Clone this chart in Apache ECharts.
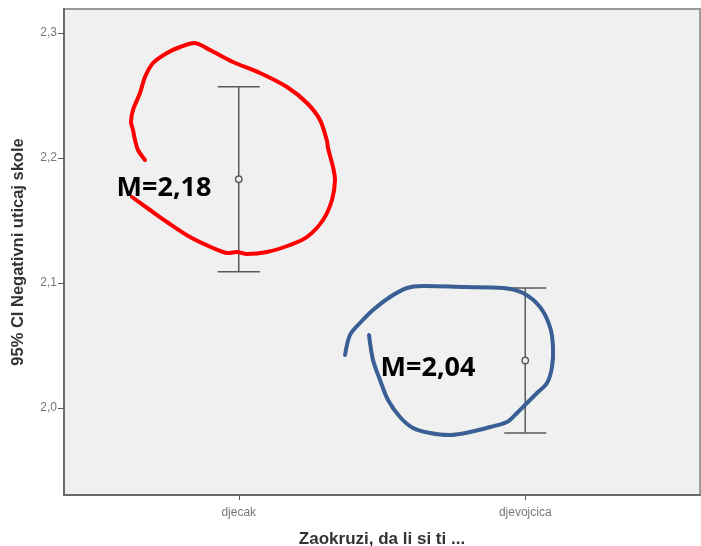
<!DOCTYPE html>
<html>
<head>
<meta charset="utf-8">
<script src="https://cdn.jsdelivr.net/npm/echarts@6/dist/echarts.min.js"></script>
<style>html,body{margin:0;padding:0;background:#fff}#c{width:701px;height:546px}</style>
</head>
<body>
<div id="c"></div>
<script>
// ---- data ----
const categories = ['djecak', 'djevojcica'];
const means = [2.183, 2.038];
const lowerCI = [2.109, 1.980];
const upperCI = [2.257, 2.096];
const yTicks = [2.0, 2.1, 2.2, 2.3];
const annotations = ['M=2,18', 'M=2,04'];

// ---- hand-drawn annotation strokes (pixel space decorations) ----
const redLoop = [[145,160],[138,150],[135,140],[133,130],[131,122],[133,110],[140,93],[145,77],[153,63],[167,53],[180,47],[195,43],[210,50],[233,62],[260,73],[287,87],[307,103],[320,120],[327,141],[328,148],[333,167],[335,180],[332,200],[323,220],[307,237],[290,245],[267,252],[247,254],[237,252],[227,253],[213,248],[190,237],[167,222],[150,210],[132,197]];
const blueLoop = [[345,355],[350,335],[360,323],[373,310],[390,297],[407,288],[423,286],[463,287],[503,288],[523,293],[540,307],[550,327],[553,347],[552,367],[547,383],[537,393],[527,403],[517,413],[507,422],[490,427],[470,432],[450,435],[430,433],[413,428],[400,417],[388,400],[380,380],[373,360],[369,335]];

const chart = echarts.init(document.getElementById('c'), null, {renderer: 'canvas'});
const errData = categories.map((c, i) => [i, lowerCI[i], upperCI[i], means[i]]);
const fontFam = '"Liberation Sans", Arial, sans-serif';

chart.setOption({
  animation: false,
  backgroundColor: '#ffffff',
  grid: {
    left: 64, right: 1, top: 9, bottom: 51,
    containLabel: false, outerBoundsMode: 'none',
    show: true, backgroundColor: '#f0f0f0', borderColor: '#9a9a9a', borderWidth: 2
  },
  xAxis: {
    type: 'value', min: -0.61, max: 1.61,
    splitLine: {show: false},
    axisLine: {show: true, onZero: false, lineStyle: {color: '#6a6a6a', width: 2}},
    axisTick: {show: true, length: 5, lineStyle: {color: '#555'}, customValues: [0, 1]},
    axisLabel: {
      customValues: [0, 1], margin: 12,
      color: '#777', fontSize: 12, fontFamily: fontFam,
      formatter: v => categories[Math.round(v)] || ''
    },
    name: 'Zaokruzi, da li si ti ...', nameLocation: 'middle', nameGap: 36,
    nameTextStyle: {color: '#333', fontSize: 17, fontWeight: 'bold', fontFamily: fontFam}
  },
  yAxis: {
    type: 'value', min: 1.9304, max: 2.3192,
    splitLine: {show: false},
    axisLine: {show: true, onZero: false, lineStyle: {color: '#6a6a6a', width: 2}},
    axisTick: {show: true, length: 6, lineStyle: {color: '#555'}, customValues: yTicks},
    axisLabel: {
      customValues: yTicks, margin: 7,
      color: '#777', fontSize: 12, fontFamily: fontFam,
      formatter: v => v.toFixed(1).replace('.', ',')
    },
    name: '95% CI Negativni uticaj skole', nameLocation: 'middle', nameGap: 37,
    nameTextStyle: {color: '#333', fontSize: 16.5, fontWeight: 'bold', fontFamily: fontFam}
  },
  series: [{
    type: 'custom',
    data: errData,
    encode: {x: 0, y: [1, 2, 3]},
    renderItem: function (params, api) {
      const x = api.value(0);
      const lo = api.coord([x, api.value(1)]);
      const hi = api.coord([x, api.value(2)]);
      const m = api.coord([x, api.value(3)]);
      const hw = 21;
      const st = {stroke: '#5a5a5a', lineWidth: 1.5};
      return {
        type: 'group',
        children: [
          {type: 'line', shape: {x1: hi[0], y1: hi[1], x2: lo[0], y2: lo[1]}, style: st},
          {type: 'line', shape: {x1: hi[0]-hw, y1: hi[1], x2: hi[0]+hw, y2: hi[1]}, style: st},
          {type: 'line', shape: {x1: lo[0]-hw, y1: lo[1], x2: lo[0]+hw, y2: lo[1]}, style: st},
          {type: 'circle', shape: {cx: m[0], cy: m[1], r: 3.2}, style: {fill: '#f0f0f0', stroke: '#5a5a5a', lineWidth: 1.4}}
        ]
      };
    }
  }],
  graphic: [
    {type: 'polyline', shape: {points: redLoop, smooth: 0.3}, style: {stroke: '#ff0000', lineWidth: 4, fill: null, lineCap: 'round', lineJoin: 'round'}, z: 10},
    {type: 'polyline', shape: {points: blueLoop, smooth: 0.3}, style: {stroke: '#3a5f95', lineWidth: 4, fill: null, lineCap: 'round', lineJoin: 'round'}, z: 10},
    {type: 'text', x: 164, y: 188, style: {text: annotations[0], fill: '#000', font: 'bold 27px "Open Sans", sans-serif', textAlign: 'center', textVerticalAlign: 'middle'}, z: 11},
    {type: 'text', x: 428, y: 368, style: {text: annotations[1], fill: '#000', font: 'bold 27px "Open Sans", sans-serif', textAlign: 'center', textVerticalAlign: 'middle'}, z: 11}
  ]
});
</script>
</body>
</html>
